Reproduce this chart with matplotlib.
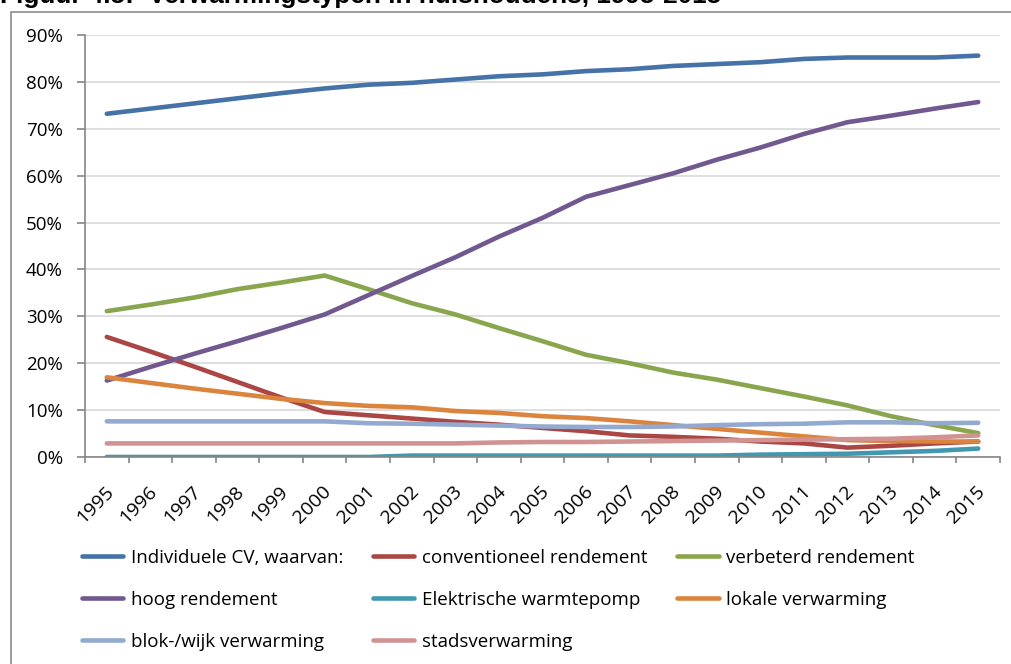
import matplotlib
matplotlib.use("Agg")
from matplotlib import pyplot as plt
from matplotlib.patches import Rectangle
from matplotlib.ticker import FuncFormatter
from matplotlib.transforms import ScaledTranslation

years = [str(y) for y in range(1995, 2016)]

individuele_cv = [73.2, 74.3, 75.4, 76.5, 77.6, 78.6, 79.4, 79.8, 80.5, 81.2, 81.6,
                  82.3, 82.7, 83.4, 83.8, 84.2, 84.9, 85.2, 85.2, 85.2, 85.6]
conventioneel = [25.6, 22.5, 19.3, 16.0, 12.7, 9.6, 8.9, 8.2, 7.5, 6.9, 6.2,
                 5.5, 4.6, 4.3, 3.9, 3.3, 2.9, 2.0, 2.4, 2.9, 3.3]
verbeterd = [31.1, 32.5, 34.0, 35.8, 37.2, 38.7, 35.8, 32.8, 30.4, 27.5, 24.7,
             21.8, 20.0, 18.0, 16.5, 14.7, 12.9, 11.0, 8.7, 6.8, 5.1]
hoog = [16.3, 19.2, 22.0, 24.7, 27.5, 30.4, 34.5, 38.6, 42.6, 47.0, 51.0,
        55.5, 58.0, 60.5, 63.4, 66.0, 68.9, 71.4, 72.8, 74.3, 75.7]
warmtepomp = [0.0, 0.0, 0.0, 0.0, 0.0, 0.0, 0.0, 0.3, 0.3, 0.3, 0.3,
              0.3, 0.3, 0.3, 0.3, 0.5, 0.6, 0.7, 1.0, 1.3, 1.8]
lokale = [17.0, 15.8, 14.6, 13.5, 12.4, 11.5, 10.9, 10.6, 9.8, 9.4, 8.7,
          8.3, 7.6, 6.8, 6.0, 5.2, 4.4, 3.6, 3.4, 3.3, 3.3]
blok_wijk = [7.6, 7.6, 7.6, 7.6, 7.6, 7.6, 7.2, 7.1, 6.9, 6.7, 6.5,
             6.4, 6.4, 6.5, 6.8, 7.0, 7.1, 7.4, 7.4, 7.2, 7.3]
stads = [2.9, 2.9, 2.9, 2.9, 2.9, 2.9, 2.9, 2.9, 2.9, 3.1, 3.2,
         3.2, 3.3, 3.4, 3.5, 3.6, 3.7, 3.8, 3.9, 4.2, 4.6]

series = [
    ('Individuele CV, waarvan:', individuele_cv, '#4572A7'),
    ('conventioneel rendement', conventioneel, '#AA4643'),
    ('verbeterd rendement', verbeterd, '#89A54E'),
    ('hoog rendement', hoog, '#71588F'),
    ('Elektrische warmtepomp', warmtepomp, '#4198AF'),
    ('lokale verwarming', lokale, '#DB843D'),
    ('blok-/wijk verwarming', blok_wijk, '#93A9CF'),
    ('stadsverwarming', stads, '#D19392'),
]

plt.rcParams['font.family'] = ['Open Sans', 'DejaVu Sans']

W, H = 1012, 664
fig = plt.figure(figsize=(W / 100, H / 100), dpi=100)

# chart frame (cut off at right and bottom)
fig.patches.append(Rectangle((11 / W, -0.1), 1.1, 1 - 12 / H + 0.1, transform=fig.transFigure,
                             facecolor='none', edgecolor='#8C8C8C', linewidth=1.2))

# title, mostly cut off at the top like in the source
fig.text(0, 1 - 3 / H, 'Figuur 4.5:  Verwarmingstypen in huishoudens, 1995-2015',
         family='Liberation Sans', fontweight='bold', fontsize=18.8, va='baseline', ha='left')

ax = fig.add_axes([85 / W, 1 - 457 / H, (1000 - 85) / W, (457 - 35) / H])

x = list(range(len(years)))
handles = []
for label, values, color in series:
    line, = ax.plot(x, values, color=color, linewidth=3.3, solid_capstyle='round',
                    solid_joinstyle='round', label=label)
    handles.append(line)

ax.set_xlim(-0.5, len(years) - 0.5)
ax.set_ylim(0, 90)
ax.set_yticks(range(0, 100, 10))
ax.yaxis.set_major_formatter(FuncFormatter(lambda v, p: f'{int(v)}%'))
ax.yaxis.grid(True, color='#D9D9D9', linewidth=1.2)
ax.set_axisbelow(True)

ax.set_xticks(x)
ax.set_xticklabels(years, rotation=45, ha='right', va='center', rotation_mode='anchor')
ax.set_xticks([i - 0.5 for i in range(len(years) + 1)], minor=True)
ax.tick_params(axis='x', which='major', length=0, pad=23, labelsize=14)
ax.tick_params(axis='x', which='minor', length=4.5, width=1.2, color='#868686', direction='out')
ax.tick_params(axis='y', length=6, width=1.2, color='#868686', pad=10, labelsize=13.5)

# nudge the rotated year labels a little to the right
shift = ScaledTranslation(4 / 100, 0, fig.dpi_scale_trans)
for lbl in ax.get_xticklabels():
    lbl.set_transform(lbl.get_transform() + shift)

for side in ['top', 'right']:
    ax.spines[side].set_visible(False)
for side in ['left', 'bottom']:
    ax.spines[side].set_color('#868686')
    ax.spines[side].set_linewidth(1.2)

# legend laid out row by row like the original
order = [0, 3, 6, 1, 4, 7, 2, 5]
leg = fig.legend([handles[i] for i in order], [series[i][0] for i in order],
                 ncol=3, loc='upper left', bbox_to_anchor=(82 / W, 1 - 549 / H),
                 frameon=False, fontsize=13.5, handlelength=2.2, handletextpad=0.4,
                 labelspacing=1.28, columnspacing=1.6, borderpad=0, borderaxespad=0)

fig.savefig('out.png', dpi=100)
